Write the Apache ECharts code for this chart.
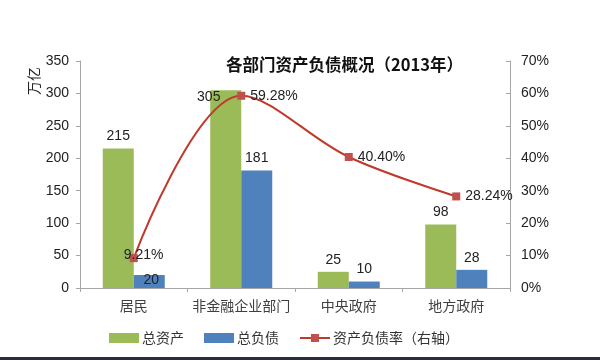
<!DOCTYPE html>
<html>
<head>
<meta charset="utf-8">
<script src="https://cdn.jsdelivr.net/npm/echarts@6/dist/echarts.min.js"></script>
<style>html,body{margin:0;padding:0;background:#fff}#c{width:600px;height:360px}</style>
</head>
<body>
<div id="c"></div>
<script>
var categories = ['居民', '非金融企业部门', '中央政府', '地方政府'];
var totalAssets = [215, 305, 25, 98];
var totalDebt = [20, 181, 10, 28];
var debtRatio = [9.21, 59.28, 40.40, 28.24];
var leftTicks = {min: 0, max: 350, interval: 50};
var rightTicks = {min: 0, max: 70, interval: 10};

var chart = echarts.init(document.getElementById('c'), null, {renderer: 'canvas'});
var numFont = 'Liberation Sans, Arial, sans-serif';
var cjkFont = 'Noto Sans CJK SC, sans-serif';

var assetsData = totalAssets.map(function (v, i) {
  if (i === 1) return {value: v, label: {offset: [-17, 19]}};
  return v;
});
var debtData = totalDebt.map(function (v, i) {
  if (i === 0) return {value: v, label: {offset: [2, 17]}};
  return v;
});
var ratioData = debtRatio.map(function (v, i) {
  if (i === 0) return {value: v, label: {offset: [-19, -3]}};
  return v;
});

chart.setOption({
  animation: false,
  backgroundColor: '#ffffff',
  title: {
    text: '各部门资产负债概况（2013年）',
    left: 226, top: 56, padding: 0,
    textStyle: {fontFamily: cjkFont, fontWeight: 'bold', fontSize: 16.5, color: '#111'}
  },
  graphic: [
    {type: 'text', x: 34, y: 81, rotation: Math.PI / 2,
     style: {text: '万亿', font: '14px ' + cjkFont, fill: '#222', textAlign: 'center', textVerticalAlign: 'middle'}},
    {type: 'rect', shape: {x: 0, y: 357, width: 600, height: 3}, style: {fill: '#2b2d3a'}}
  ],
  legend: {
    left: 104, top: 326, itemWidth: 30, itemHeight: 10, itemGap: 20,
    textStyle: {fontFamily: cjkFont, fontSize: 14, color: '#333', padding: [0, 0, 0, -2]},
    data: [{name: '总资产', icon: 'rect'}, {name: '总负债', icon: 'rect'}, {name: '资产负债率（右轴）'}]
  },
  grid: {left: 80, right: 90, top: 61, bottom: 72, containLabel: false},
  xAxis: {
    type: 'category', data: categories,
    axisLine: {lineStyle: {color: '#a6a6a6', width: 1}},
    axisTick: {show: true, length: 4, lineStyle: {color: '#a6a6a6'}},
    axisLabel: {interval: 0, fontFamily: cjkFont, fontSize: 14, color: '#404040', margin: 11}
  },
  yAxis: [
    {type: 'value', min: leftTicks.min, max: leftTicks.max, interval: leftTicks.interval,
     splitLine: {show: false},
     axisLine: {show: true, lineStyle: {color: '#a6a6a6'}},
     axisTick: {show: true, length: 4, lineStyle: {color: '#a6a6a6'}},
     axisLabel: {fontFamily: numFont, fontSize: 14, color: '#222', margin: 11}},
    {type: 'value', min: rightTicks.min, max: rightTicks.max, interval: rightTicks.interval,
     splitLine: {show: false},
     axisLine: {show: true, lineStyle: {color: '#a6a6a6'}},
     axisTick: {show: true, length: 4, inside: true, lineStyle: {color: '#a6a6a6'}},
     axisLabel: {fontFamily: numFont, fontSize: 14, color: '#222', margin: 11, formatter: '{value}%'}}
  ],
  series: [
    {name: '总资产', type: 'bar', data: assetsData, barWidth: 31, barGap: '0%',
     itemStyle: {color: '#9bbb59'}, z: 2,
     label: {show: true, position: 'top', distance: 5, fontFamily: numFont, fontSize: 14, color: '#222'}},
    {name: '总负债', type: 'bar', data: debtData, barWidth: 31, barGap: '0%',
     itemStyle: {color: '#4f81bd'}, z: 2,
     label: {show: true, position: 'top', distance: 5, fontFamily: numFont, fontSize: 14, color: '#222'}},
    {name: '资产负债率（右轴）', type: 'line', yAxisIndex: 1, data: ratioData, smooth: 0.35,
     symbol: 'rect', symbolSize: 8, z: 3,
     lineStyle: {color: '#c0392b', width: 2},
     itemStyle: {color: '#c0504d'},
     label: {show: true, position: 'right', distance: 5, fontFamily: numFont, fontSize: 14, color: '#222',
       formatter: function (p) { return Number(p.value).toFixed(2) + '%'; }}}
  ]
});
</script>
</body>
</html>
